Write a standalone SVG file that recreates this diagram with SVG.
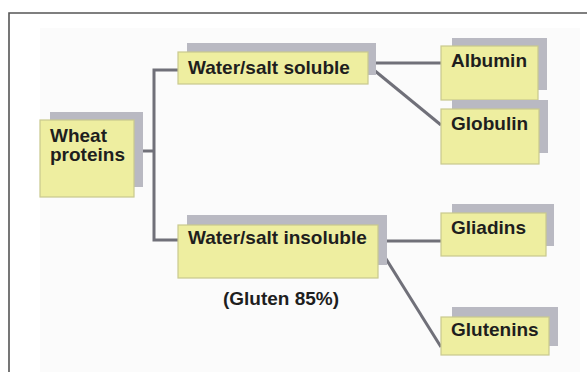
<svg xmlns="http://www.w3.org/2000/svg" width="587" height="372" viewBox="0 0 587 372">
<style>
.sh{fill:#b9b9c2}
.bx{fill:#eeeea0;stroke:#c9c98e;stroke-width:1.2}
.t{font-family:"Liberation Sans",Arial,sans-serif;font-weight:bold;font-size:19px;fill:#1e1e1e}
.c{stroke:#707079;stroke-width:3;fill:none;stroke-linejoin:miter}
</style>
<rect x="0" y="0" width="587" height="372" fill="#ffffff"/>
<rect x="40" y="28" width="540" height="344" fill="#fbfbfb"/>
<path d="M9,372 V13 H587" fill="none" stroke="#555" stroke-width="1.6"/>
<g id="connectors">
<path class="c" d="M134,151 H154"/>
<path class="c" d="M178,70 H154 V240 H178"/>
<path class="c" d="M368,63 H441"/>
<path class="c" d="M369,66 L441,125"/>
<path class="c" d="M378,241 H441"/>
<path class="c" d="M378,246 L441,347"/>
</g>
<g id="wheat">
<rect class="sh" x="50" y="112" width="93" height="75"/>
<rect class="bx" x="40" y="120" width="94" height="77"/>
<text class="t" x="50" y="142">Wheat</text>
<text class="t" x="50" y="161">proteins</text>
</g>
<g id="soluble">
<rect class="sh" x="187" y="43" width="189" height="32"/>
<rect class="bx" x="178" y="52" width="190" height="32"/>
<text class="t" x="188" y="74">Water/salt soluble</text>
</g>
<g id="albumin">
<rect class="sh" x="452" y="38" width="95" height="52"/>
<rect class="bx" x="441" y="46" width="97" height="54"/>
<text class="t" x="451" y="67">Albumin</text>
</g>
<g id="globulin">
<rect class="sh" x="452" y="100" width="96" height="53"/>
<rect class="bx" x="441" y="109" width="98" height="55"/>
<text class="t" x="451" y="130">Globulin</text>
</g>
<g id="insoluble">
<rect class="sh" x="187" y="215" width="200" height="50"/>
<rect class="bx" x="178" y="225" width="200" height="53"/>
<text class="t" x="188" y="244">Water/salt insoluble</text>
</g>
<text class="t" x="281" y="305" text-anchor="middle">(Gluten 85%)</text>
<g id="gliadins">
<rect class="sh" x="452" y="204" width="102" height="42"/>
<rect class="bx" x="441" y="213" width="105" height="43"/>
<text class="t" x="451" y="234">Gliadins</text>
</g>
<g id="glutenins">
<rect class="sh" x="452" y="307" width="106" height="39"/>
<rect class="bx" x="441" y="317" width="108" height="38"/>
<text class="t" x="451" y="336">Glutenins</text>
</g>
</svg>
